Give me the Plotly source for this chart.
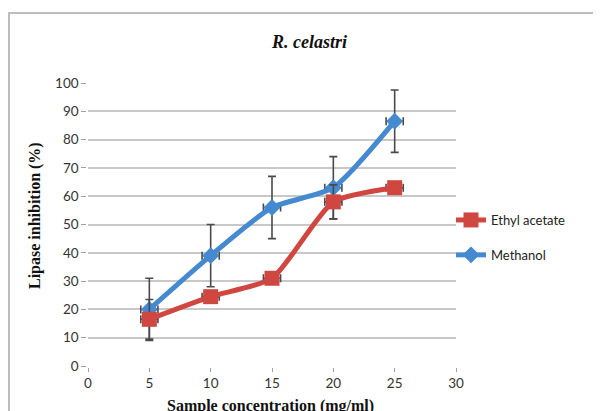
import plotly.graph_objects as go

concentration = [5, 10, 15, 20, 25]
methanol = [20, 39, 56, 63, 86.5]
methanol_err = [11, 11, 11, 11, 11]
ethyl_acetate = [16.5, 24.5, 31, 58, 63]
ethyl_acetate_err = [7, 2, 1, 6, 1]
x_err = [0.7, 0.7, 0.7, 0.7, 0.7]
x_ticks = [0, 5, 10, 15, 20, 25, 30]
y_ticks = [0, 10, 20, 30, 40, 50, 60, 70, 80, 90, 100]

RED = "#CF4740"
BLUE = "#4589D0"
ERR = "#4a4a4a"

OFF = 8  # page body margin
W, H = 601 - OFF, 411 - OFF
L, T = 88 - OFF, 83 - OFF
R = W - (456 - OFF)
B = H - (366 - OFF)
pw, ph = W - L - R, H - T - B


def px(x):
    return (x - OFF - L) / pw


def py(y):
    return (H - B - (y - OFF)) / ph


fig = go.Figure()
fig.add_trace(go.Scatter(
    x=concentration, y=ethyl_acetate, name="Ethyl acetate", mode="lines+markers",
    line=dict(color=RED, width=5, shape="spline", smoothing=0.6),
    marker=dict(symbol="square", size=15, color=RED),
    error_y=dict(type="data", array=ethyl_acetate_err, color=ERR, thickness=1.6, width=4),
    error_x=dict(type="data", array=x_err, color=ERR, thickness=1.6, width=4),
    legendgroup="e", zorder=2,
))
fig.add_trace(go.Scatter(
    x=concentration, y=methanol, name="Methanol", mode="lines+markers",
    line=dict(color=BLUE, width=5, shape="spline", smoothing=0.6),
    marker=dict(symbol="diamond", size=13, color=BLUE),
    error_y=dict(type="data", array=methanol_err, color=ERR, thickness=1.6, width=4),
    error_x=dict(type="data", array=x_err, color=ERR, thickness=1.6, width=4),
    legendgroup="m", zorder=1,
))

fig.update_layout(
    width=W, height=H,
    margin=dict(l=L, r=R, t=T, b=B),
    paper_bgcolor="white", plot_bgcolor="white",
    font=dict(family="Lato, Open Sans, sans-serif", size=13, color="#333333"),
    showlegend=True,
    legend=dict(x=px(451), y=py(205), xanchor="left", yanchor="top",
                traceorder="grouped", tracegroupgap=15,
                font=dict(family="Lato, Open Sans, sans-serif", size=13, color="#222222"),
                itemwidth=30, bgcolor="rgba(0,0,0,0)"),
    xaxis=dict(range=[0, 30], tickvals=x_ticks, showgrid=False, zeroline=False,
               showline=True, linecolor="#a0a0a0", linewidth=1.5,
               ticks="outside", ticklen=4, tickcolor="#a0a0a0",
               tickfont=dict(size=13.5, color="#333333")),
    yaxis=dict(range=[0, 100], tickvals=y_ticks, showgrid=True, gridcolor="#c8c8c8",
               gridwidth=1.5, zeroline=False, showline=True, linecolor="#a0a0a0",
               linewidth=1.5, ticks="outside", ticklen=5, tickcolor="#a0a0a0",
               tickfont=dict(size=13.5, color="#333333")),
    shapes=[dict(type="rect", xref="paper", yref="paper",
                 x0=px(9), x1=px(640), y0=py(440), y1=py(13),
                 line=dict(color="#bdbdbd", width=2), layer="below")],
    annotations=[
        dict(text="<b><i>R. celastri</i></b>", xref="paper", yref="paper",
             x=px(309), y=py(42), xanchor="center", yanchor="middle", showarrow=False,
             font=dict(family="Liberation Serif, Times New Roman, serif", size=18, color="#111111")),
        dict(text="<b>Lipase inhibition (%)</b>", xref="paper", yref="paper",
             x=px(35), y=py(216), xanchor="center", yanchor="middle",
             showarrow=False, textangle=-90,
             font=dict(family="Liberation Serif, Times New Roman, serif", size=16, color="#111111")),
        dict(text="<b>Sample concentration (mg/ml)</b>", xref="paper", yref="paper",
             x=px(270), y=py(406), xanchor="center", yanchor="middle", showarrow=False,
             font=dict(family="Liberation Serif, Times New Roman, serif", size=16, color="#111111")),
    ],
)

fig.write_html("out.html")
